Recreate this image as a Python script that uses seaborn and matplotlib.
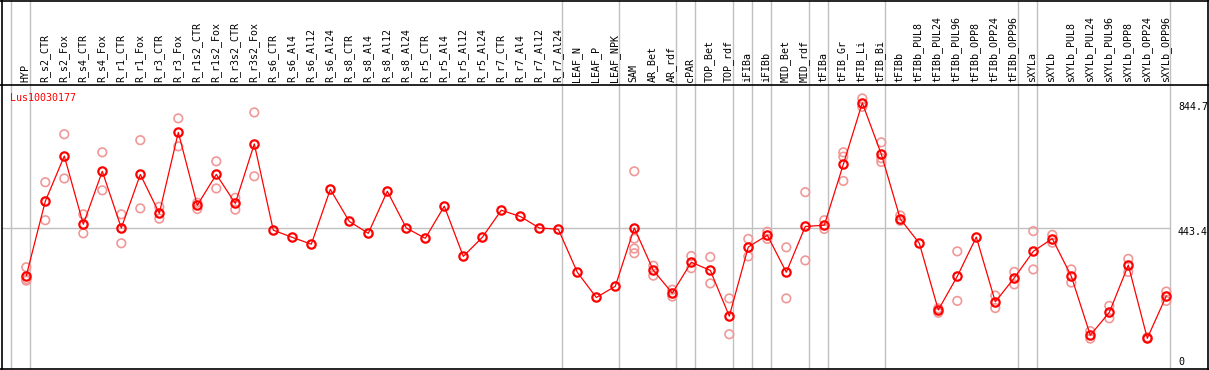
import numpy as np
import pandas as pd
import matplotlib
matplotlib.use("Agg")
import matplotlib.pyplot as plt
import seaborn as sns
from matplotlib.lines import Line2D

title = "Lus10030177"

categories = [
    "HYP", "R_s2_CTR", "R_s2_Fox", "R_s4_CTR", "R_s4_Fox", "R_r1_CTR", "R_r1_Fox",
    "R_r3_CTR", "R_r3_Fox", "R_r1s2_CTR", "R_r1s2_Fox", "R_r3s2_CTR", "R_r3s2_Fox",
    "R_s6_CTR", "R_s6_Al4", "R_s6_Al12", "R_s6_Al24", "R_s8_CTR", "R_s8_Al4",
    "R_s8_Al12", "R_s8_Al24", "R_r5_CTR", "R_r5_Al4", "R_r5_Al12", "R_r5_Al24",
    "R_r7_CTR", "R_r7_Al4", "R_r7_Al12", "R_r7_Al24", "LEAF_N", "LEAF_P", "LEAF_NPK",
    "SAM", "AR_Bet", "AR_rdf", "cPAR", "TOP_Bet", "TOP_rdf", "iFIBa", "iFIBb",
    "MID_Bet", "MID_rdf", "tFIBa", "tFIB_Gr", "tFIB_Li", "tFIB_Bi", "tFIBb",
    "tFIBb_PUL8", "tFIBb_PUL24", "tFIBb_PUL96", "tFIBb_OPP8", "tFIBb_OPP24",
    "tFIBb_OPP96", "sXYLa", "sXYLb", "sXYLb_PUL8", "sXYLb_PUL24", "sXYLb_PUL96",
    "sXYLb_OPP8", "sXYLb_OPP24", "sXYLb_OPP96",
]

means = [
    290, 529, 674, 455, 625, 443, 615, 490, 750, 516, 615, 522, 713,
    436, 413, 391, 567, 464, 426, 561, 443, 410, 513, 352, 413,
    500, 480, 443, 439, 301, 220, 256,
    443, 307, 234, 333, 307, 160, 382, 420, 301, 448,
    452, 647, 844.7, 680, 472,
    394, 180, 288, 414, 206, 283,
    368, 409, 288, 99, 172, 324, 89, 225,
]

replicates = [
    [317, 274, 279], [590, 468], [744, 602], [487, 426], [686, 564], [487, 394],
    [725, 506], [511, 473], [795, 705], [524, 504], [657, 570], [540, 502], [814, 609],
    [], [], [], [], [], [], [], [], [], [], [], [],
    [], [], [], [], [], [], [],
    [625, 409, 377, 362], [322, 290], [245, 223], [353, 314], [350, 265], [217, 102],
    [408, 352], [431, 408], [381, 217], [558, 339],
    [468, 440], [686, 672, 594], [859, 832], [718, 667, 655], [483, 466],
    [], [171, 185], [368, 209], [], [226, 186], [302, 262],
    [433, 310], [421, 396], [310, 268], [112, 88], [193, 153], [344, 302], [92], [239, 209],
]

group_edges = [-1, 0, 28, 31, 34, 35, 37, 38, 39, 41, 42, 45, 52, 53, 60]
ref_value = 443.4
tick_values = [844.7, 443.4, 0]

idx = np.arange(len(categories))
df_mean = pd.DataFrame({"idx": idx, "value": means})
rep_rows = [(i, v) for i, reps in enumerate(replicates) for v in reps]
df_rep = pd.DataFrame(rep_rows, columns=["idx", "value"])

sns.set_style("white")
plt.rcParams["font.family"] = ["DejaVu Sans Mono", "DejaVu Sans"]

W, H = 1209, 370
fig = plt.figure(figsize=(W / 100, H / 100), dpi=100)

xmin = -25.3 / 19
xmax = xmin + 1206 / 19
px2val = 0.3115
ymin = (366 - 369) / px2val
ymax = (366 - 85) / px2val

ax = fig.add_axes([1 / W, 1 / H, 1206 / W, 284 / H])
hx = fig.add_axes([1 / W, 285 / H, 1206 / W, 85 / H], sharex=ax)

grid_col = "#c0c0c0"
for a in (ax, hx):
    for e in group_edges:
        a.axvline(e + 0.21, color=grid_col, lw=1.0, zorder=0)
    for s in a.spines.values():
        s.set_visible(False)
    a.set_xticks([])
    a.set_yticks([])

ax.set_xlim(xmin, xmax)
ax.set_ylim(ymin, ymax)
hx.set_ylim(0, 85)

ax.plot([xmin, group_edges[-1] + 0.21], [ref_value, ref_value], color=grid_col, lw=1.0, zorder=0)

sns.scatterplot(data=df_rep, x="idx", y="value", ax=ax, marker="o", s=38,
                facecolors="none", edgecolor="#f09898", linewidth=1.2, zorder=2, legend=False)
sns.lineplot(data=df_mean, x="idx", y="value", ax=ax, color="#ff0000", lw=0.9,
             marker="o", markersize=6.0, markerfacecolor="none", markeredgecolor="#ff0000",
             markeredgewidth=1.6, zorder=3, legend=False)
ax.set_xlabel("")
ax.set_ylabel("")
ax.set_xticks([])
ax.set_yticks([])

for i, lab in enumerate(categories):
    hx.text(i - 0.05, 3, lab, rotation=90, ha="center", va="bottom", fontsize=7.2, color="black")

ax.text(xmin + 8.5 / 19, (366 - 98) / px2val, title, color="#ff0000", fontsize=7.2,
        ha="left", va="center")

xt = xmin + (1178 - 1) / 19
for v in tick_values:
    yv = v - 3.7 / px2val
    if v == 0:
        yv = (366 - 361.7) / px2val
    ax.text(xt, yv, f"{v:g}", fontsize=7.2, ha="left", va="center", color="black")

fl = dict(color="black", lw=1.2, transform=fig.transFigure)
fig.add_artist(Line2D([1.5 / W, 1.5 / W], [0, 1], **fl))
fig.add_artist(Line2D([1207.5 / W, 1207.5 / W], [0, 1], **fl))
fig.add_artist(Line2D([0, 1], [1 - 0.5 / H, 1 - 0.5 / H], **fl))
fig.add_artist(Line2D([0, 1], [0.8 / H, 0.8 / H], **fl))
fig.add_artist(Line2D([0, 1], [285 / H, 285 / H], **fl))

fig.savefig("out.png", dpi=100)
